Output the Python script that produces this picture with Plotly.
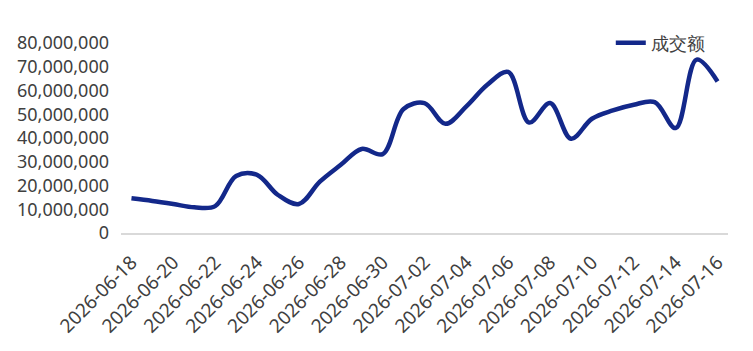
import plotly.graph_objects as go
import pandas as pd

dates = pd.date_range("2026-06-18", "2026-07-16", freq="D").strftime("%Y-%m-%d").tolist()
amount = [14.6, 13.5, 12.2, 10.8, 11.3, 24.0, 24.5, 16.0, 12.2, 21.6,
          28.7, 35.4, 33.2, 52.2, 54.7, 46.0, 53.3, 62.4, 67.8, 46.5,
          54.7, 39.7, 48.1, 51.6, 54.0, 55.1, 44.2, 73.0, 63.8]
amount = [v * 1_000_000 for v in amount]
tick_dates = dates[::2]
series_name = "成交额"

fig = go.Figure()
fig.add_trace(go.Scatter(
    x=dates, y=amount, mode="lines", name=series_name,
    line=dict(color="#13288A", width=4.5, shape="spline", smoothing=1.0),
))

font_family = "Noto Sans, Open Sans, sans-serif"
fig.update_layout(
    width=753, height=351,
    margin=dict(l=121, r=25, t=43, b=118),
    paper_bgcolor="white", plot_bgcolor="white",
    font=dict(family=font_family, size=18, color="#404040"),
    showlegend=True,
    legend=dict(x=0.97, y=1.0, xanchor="right", yanchor="middle",
                bgcolor="rgba(0,0,0,0)", font=dict(size=18, color="#404040")),
    xaxis=dict(
        type="date",
        range=["2026-06-17 12:00", "2026-07-16 12:00"],
        tickmode="array", tickvals=tick_dates, ticktext=tick_dates,
        tickangle=-45, showgrid=False, zeroline=False,
        showline=True, linecolor="#d9d9d9", linewidth=1.5,
        ticks="", ticklabelstandoff=9, tickfont=dict(size=19, color="#404040"),
    ),
    yaxis=dict(
        range=[0, 80_000_000], tickmode="linear", tick0=0, dtick=10_000_000,
        tickformat=",d", showgrid=False, zeroline=False, showline=False,
        ticks="", ticklabelstandoff=11, tickfont=dict(size=18, color="#404040"),
    ),
)

fig.write_html("out.html")
